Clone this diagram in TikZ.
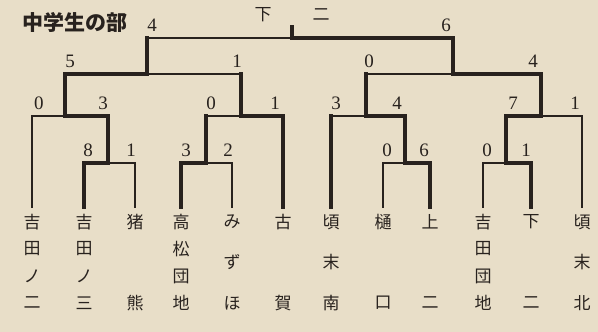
\documentclass[tikz,border=0pt]{standalone}
\usepackage{fontspec}
\setmainfont{Liberation Serif}
\newfontfamily\jfont{Noto Sans CJK JP}
\usetikzlibrary{calc}
\definecolor{paper}{RGB}{232,222,200}
\definecolor{ink}{RGB}{40,34,30}
\tikzset{
  lose/.style={ink,line width=1.8pt,line cap=rect},
  win/.style={ink,line width=4pt,line cap=rect},
  score/.style={ink,inner sep=0pt,font=\fontsize{19}{19}\selectfont},
  team/.style={ink,inner sep=0pt,font=\jfont\fontsize{17}{17}\selectfont},
  heading/.style={ink,inner sep=0pt,font=\jfont\bfseries\fontsize{21}{21}\selectfont}
}

\begin{document}
\begin{tikzpicture}[x=1pt,y=-1pt]
\fill[paper] (0,0) rectangle (598,332);
\node[heading] (ttl) at (75,22) {中学生の部};
% entrants
\foreach \x [count=\i] in {32,84,135,181,232,283,331,383,430,483,531,582}
  \coordinate (t\i) at (\x,207);
% games
\coordinate (mA) at (108,163);
\coordinate (mC) at (206,163);
\coordinate (mF) at (405,163);
\coordinate (mH) at (506,163);
\coordinate (mB) at (65,116);
\coordinate (mD) at (241,116);
\coordinate (mG) at (366,116);
\coordinate (mI) at (541,116);
\coordinate (mE) at (147,74);
\coordinate (mJ) at (453,74);
\coordinate (fin) at (292,38);
\coordinate (top) at (292,27);
% child/parent/up/across/score/shift
\foreach \c/\p/\v/\h/\s/\d [count=\i] in {
  t1/mB/lose/lose/0/7, t2/mA/win/win/8/4, t3/mA/lose/lose/1/-4,
  mA/mB/win/win/3/-5, t4/mC/win/win/3/5, t5/mC/lose/lose/2/-4,
  mC/mD/win/lose/0/5, t6/mD/win/win/1/-8, mB/mE/win/win/5/5,
  mD/mE/win/lose/1/-4, mE/fin/win/lose/4/5, t7/mG/win/lose/3/5,
  t8/mF/lose/lose/0/4, t9/mF/win/win/6/-6, mF/mG/win/win/4/-8,
  t10/mH/lose/lose/0/4, t11/mH/win/win/1/-5, mH/mI/win/win/7/7,
  t12/mI/lose/lose/1/-7, mG/mJ/win/lose/0/3, mI/mJ/win/win/4/-8,
  mJ/fin/win/win/6/-7}
{
  \draw[\v] (\c) -- (\c|-\p);
  \draw[\h] (\c|-\p) -- (\p);
  \node[score,xshift=\d pt,yshift=13pt] (s\i) at (\c|-\p) {\s};
}
\draw[win] (fin) -- (top);
\node[team] (w1) at (263,15) {下};
\node[team] (w2) at (321,15) {二};
% names, read downwards
\foreach \i/\s in {1/{吉,田,ノ,二},2/{吉,田,ノ,三},3/{猪,熊},4/{高,松,団,地},
  5/{み,ず,ほ},6/{古,賀},7/{頃,末,南},8/{樋,口},9/{上,二},
  10/{吉,田,団,地},11/{下,二},12/{頃,末,北}}
{
  \foreach \c [count=\k] in \s {\xdef\len{\k}}
  \foreach \c [count=\k from 0] in \s
    \node[team] (n\i-\k) at ($(t\i)+(0,{15+\k*81/(\len-1)})$) {\c};
}
\end{tikzpicture}
\end{document}
